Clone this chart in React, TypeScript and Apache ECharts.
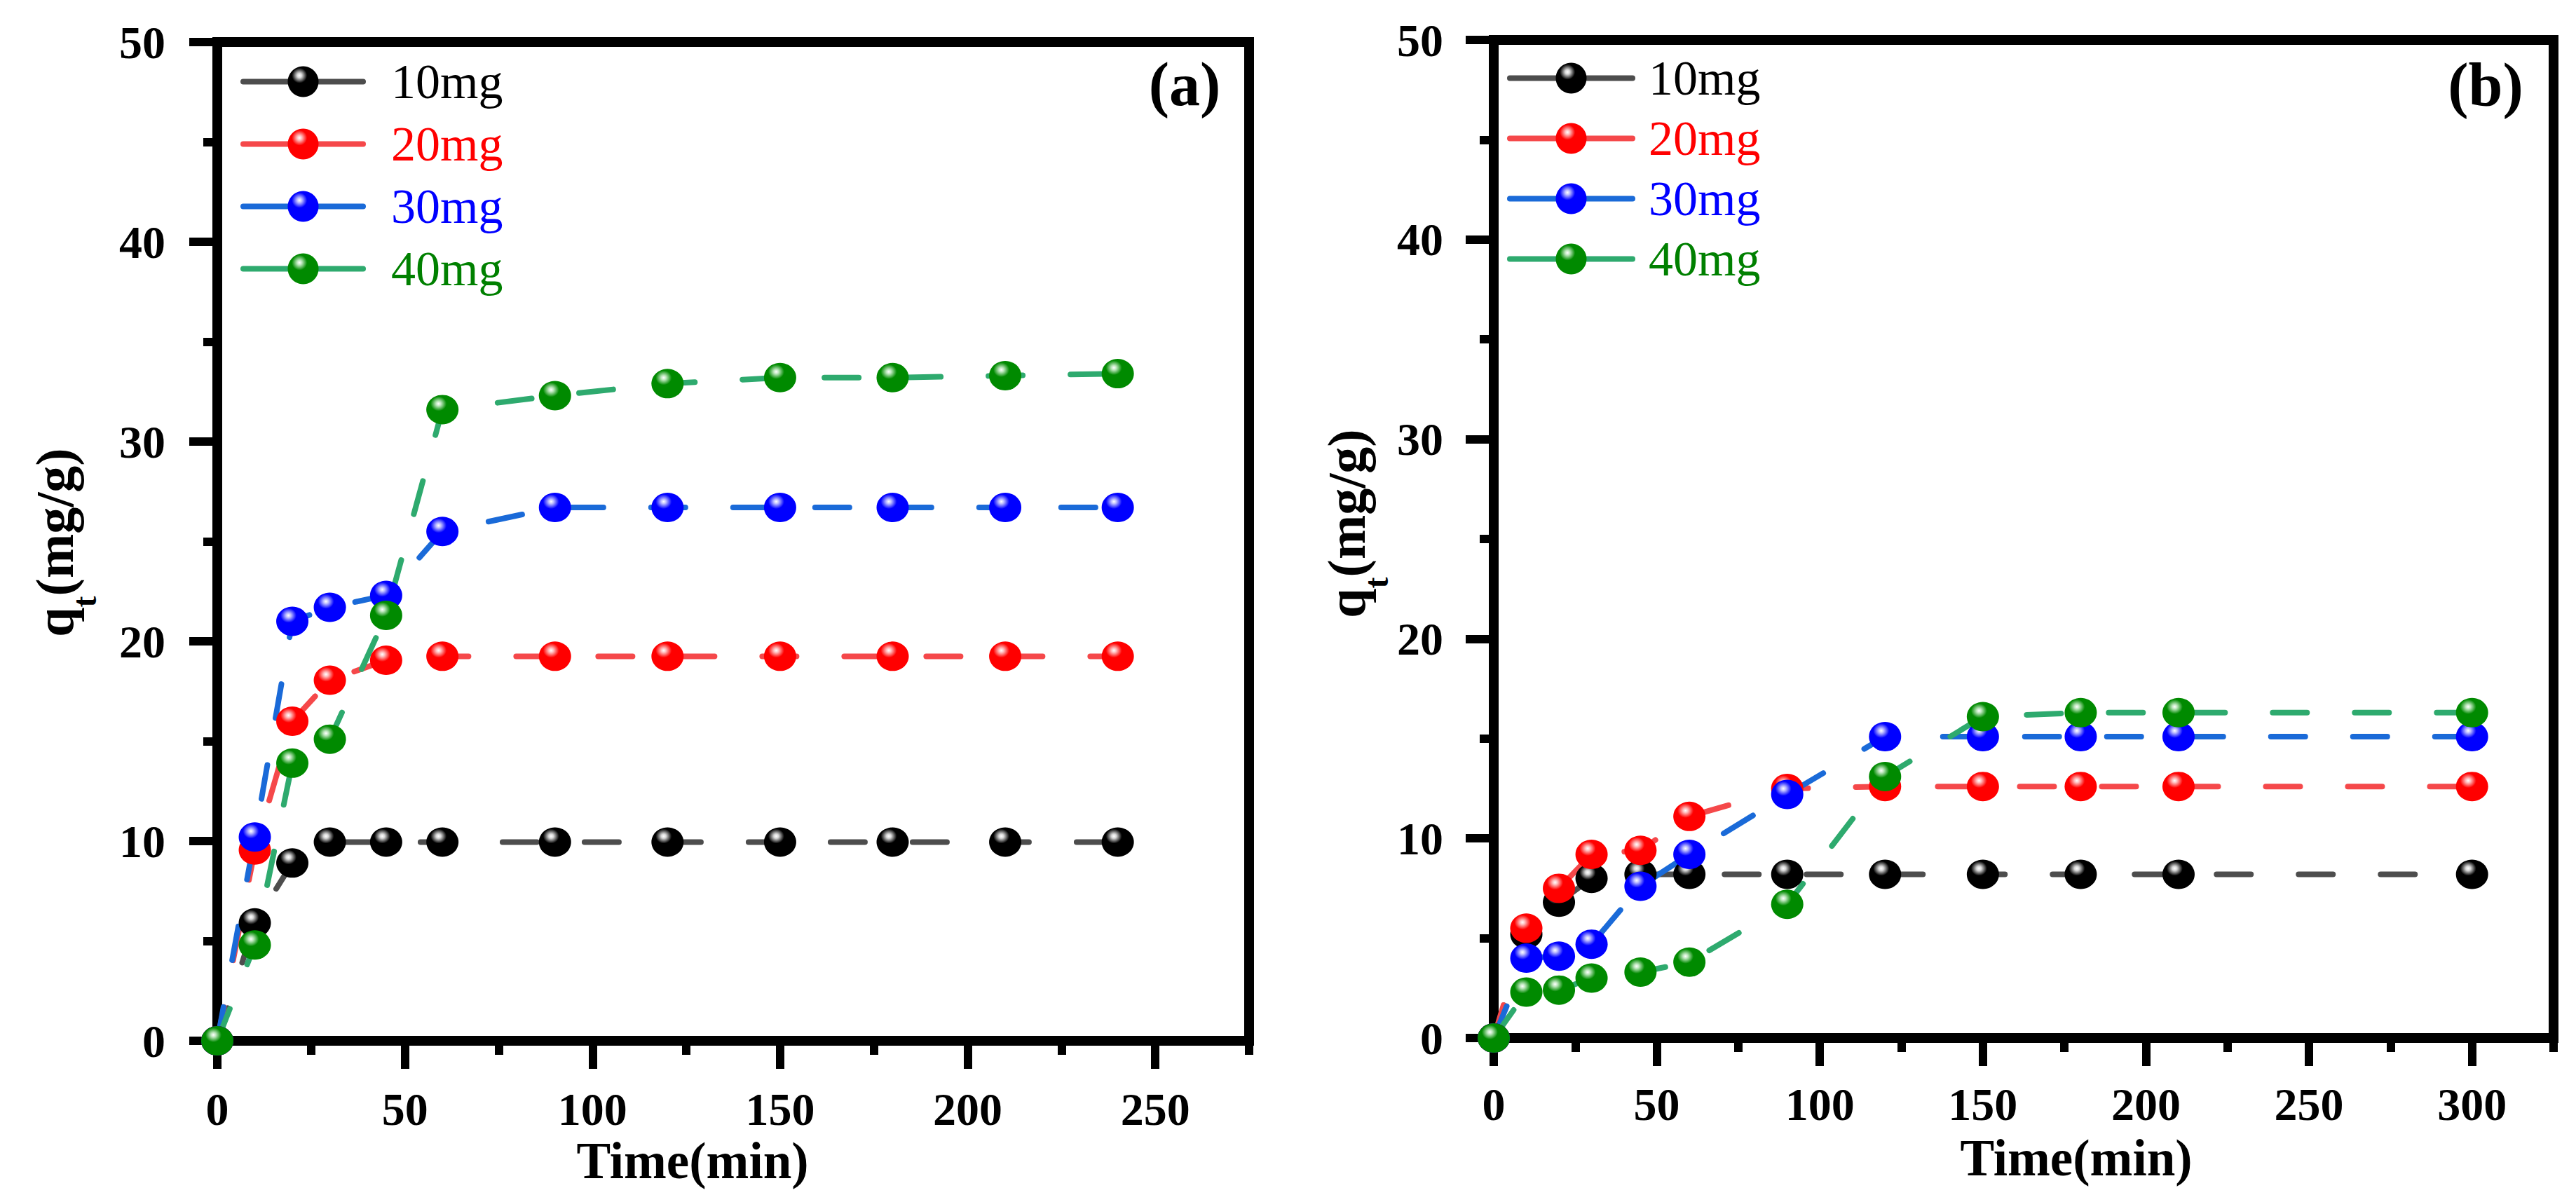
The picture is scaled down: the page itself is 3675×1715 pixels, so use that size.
import React, { useEffect, useRef } from "react";
import * as echarts from "echarts";

// ---------- data ----------
const seriesNames = ["10mg", "20mg", "30mg", "40mg"];

const timesA = [0, 10, 20, 30, 45, 60, 90, 120, 150, 180, 210, 240];
const a10 = [0, 5.9, 8.9, 9.95, 9.95, 9.95, 9.95, 9.95, 9.95, 9.95, 9.95, 9.95];
const a20 = [0, 9.55, 16.0, 18.05, 19.05, 19.25, 19.25, 19.25, 19.25, 19.25, 19.25, 19.25];
const a30 = [0, 10.2, 21.0, 21.7, 22.3, 25.5, 26.7, 26.7, 26.7, 26.7, 26.7, 26.7];
const a40 = [0, 4.8, 13.9, 15.1, 21.3, 31.6, 32.3, 32.9, 33.2, 33.2, 33.3, 33.4];

const timesB = [0, 10, 20, 30, 45, 60, 90, 120, 150, 180, 210, 300];
const b10 = [0, 5.2, 6.8, 8.0, 8.2, 8.2, 8.2, 8.2, 8.2, 8.2, 8.2, 8.2];
const b20 = [0, 5.5, 7.5, 9.2, 9.4, 11.1, 12.5, 12.6, 12.6, 12.6, 12.6, 12.6];
const b30 = [0, 4.0, 4.1, 4.7, 7.6, 9.2, 12.2, 15.1, 15.1, 15.1, 15.1, 15.1];
const b40 = [0, 2.3, 2.4, 3.0, 3.3, 3.8, 6.7, 13.1, 16.1, 16.3, 16.3, 16.3];

const xTicksA = [0, 50, 100, 150, 200, 250];
const xTicksB = [0, 50, 100, 150, 200, 250, 300];

const lineColors = ["#4d4d4d", "#f5484a", "#1a6ad8", "#2eaa6e"];
const markerColors = ["#000000", "#ff0000", "#0000ff", "#008a00"];
const highlightColors = ["#d8d8d8", "#ffc0c0", "#c0c0ff", "#c0e8c0"];
const legendTextColors = ["#000000", "#ff0000", "#0000ff", "#008000"];

const FONT = "'Liberation Serif', 'Times New Roman', serif";

function ball(i: number) {
  return new echarts.graphic.RadialGradient(0.38, 0.3, 0.62, [
    { offset: 0, color: "#ffffff" },
    { offset: 0.12, color: highlightColors[i] },
    { offset: 0.4, color: markerColors[i] },
    { offset: 1, color: markerColors[i] },
  ]);
}

function makeSeries(times: number[], vals: number[], i: number, xAxisIndex: number, yAxisIndex: number) {
  return {
    type: "line",
    name: seriesNames[i],
    xAxisIndex,
    yAxisIndex,
    data: times.map((t, k) => [t, vals[k]]),
    symbol: "circle",
    symbolSize: [46, 42],
    itemStyle: { color: ball(i), borderWidth: 0 },
    lineStyle: { color: lineColors[i], width: 8, type: [49, 68], cap: "round" },
    emphasis: { disabled: true },
  };
}

function yAxisDef(gridIndex: number, margin: number) {
  return {
    type: "value",
    gridIndex,
    min: 0,
    max: 50,
    interval: 10,
    axisLine: { show: true, lineStyle: { color: "#000", width: 14 } },
    axisTick: { show: true, length: 40, lineStyle: { color: "#000", width: 12 } },
    minorTick: { show: true, splitNumber: 2, length: 20, lineStyle: { color: "#000", width: 12 } },
    splitLine: { show: false },
    minorSplitLine: { show: false },
    axisLabel: {
      fontFamily: FONT,
      fontWeight: "bold",
      fontSize: 66,
      lineHeight: 66,
      color: "#000",
      margin,
    },
  };
}

function xMajorDef(gridIndex: number, max: number, ticks: number[], margin: number, nameGap: number, namePadding: number[]) {
  return {
    type: "value",
    gridIndex,
    position: "bottom",
    min: 0,
    max,
    interval: 50,
    axisLine: { show: true, lineStyle: { color: "#000", width: 14 } },
    axisTick: { show: true, customValues: ticks, length: 40, lineStyle: { color: "#000", width: 12 } },
    splitLine: { show: false },
    axisLabel: {
      customValues: ticks,
      fontFamily: FONT,
      fontWeight: "bold",
      fontSize: 66,
      lineHeight: 66,
      color: "#000",
      margin,
    },
    name: "Time(min)",
    nameLocation: "middle",
    nameGap,
    nameTextStyle: {
      fontFamily: FONT,
      fontWeight: "bold",
      fontSize: 73,
      lineHeight: 73,
      color: "#000",
      padding: namePadding,
    },
  };
}

function xMinorDef(gridIndex: number, max: number) {
  return {
    type: "value",
    gridIndex,
    position: "bottom",
    offset: 0,
    min: 0,
    max,
    interval: 25,
    axisLine: { show: false },
    axisTick: { show: true, length: 20, lineStyle: { color: "#000", width: 12 } },
    axisLabel: { show: false },
    splitLine: { show: false },
  };
}

function legendDef(left: number, top: number, itemWidth: number, itemGap: number, textPad: number) {
  return {
    orient: "vertical",
    left,
    top,
    itemWidth,
    itemHeight: 55,
    itemGap,
    padding: 0,
    selectedMode: false,
    data: seriesNames.map((n, i) => ({ name: n, textStyle: { color: legendTextColors[i] } })),
    textStyle: { fontFamily: FONT, fontSize: 70, lineHeight: 55, padding: [0, 0, 0, textPad] },
    lineStyle: { type: "solid", width: 8 },
  };
}

function yTitle(x: number, y: number) {
  const base = { fontFamily: FONT, fontWeight: "bold", fill: "#000", color: "#000", verticalAlign: "top" };
  return {
    type: "text",
    x,
    y,
    rotation: Math.PI / 2,
    silent: true,
    style: {
      text: "{q|q}{t|t}{p|(mg/g)}",
      textAlign: "center",
      textVerticalAlign: "middle",
      align: "center",
      verticalAlign: "middle",
      rich: {
        q: { ...base, fontSize: 76, lineHeight: 76 },
        t: { ...base, fontSize: 48, lineHeight: 48, padding: [57, 0, 0, 0] },
        p: { ...base, fontSize: 76, lineHeight: 76 },
      },
    },
  };
}

function panelLabel(text: string, x: number, y: number) {
  return {
    type: "text",
    x,
    y,
    silent: true,
    style: {
      text,
      font: "bold 88px 'Liberation Serif', serif",
      fill: "#000",
      textAlign: "center",
      textVerticalAlign: "middle",
      align: "center",
      verticalAlign: "middle",
    },
  };
}

function buildOption() {
  return {
    animation: false,
    backgroundColor: "#ffffff",
    grid: [
      { left: 310, top: 60, width: 1472, height: 1425, show: true, borderColor: "#000", borderWidth: 14, backgroundColor: "transparent" },
      { left: 2131, top: 57, width: 1512, height: 1424, show: true, borderColor: "#000", borderWidth: 14, backgroundColor: "transparent" },
    ],
    xAxis: [
      xMajorDef(0, 275, xTicksA, 64, 130, [0, 116, 0, 0]),
      xMinorDef(0, 275),
      xMajorDef(1, 325, xTicksB, 61, 135, [0, 0, 0, 150]),
      xMinorDef(1, 325),
    ],
    yAxis: [yAxisDef(0, 74), yAxisDef(1, 72)],
    legend: [legendDef(343, 81.5, 171, 19, 35), legendDef(2150, 76.5, 175, 16, 18)],
    graphic: [
      yTitle(77.5, 774),
      yTitle(1920.5, 747),
      panelLabel("(a)", 1690, 120),
      panelLabel("(b)", 3546, 121),
    ],
    series: [
      makeSeries(timesA, a10, 0, 0, 0),
      makeSeries(timesA, a20, 1, 0, 0),
      makeSeries(timesA, a30, 2, 0, 0),
      makeSeries(timesA, a40, 3, 0, 0),
      makeSeries(timesB, b10, 0, 2, 1),
      makeSeries(timesB, b20, 1, 2, 1),
      makeSeries(timesB, b30, 2, 2, 1),
      makeSeries(timesB, b40, 3, 2, 1),
    ],
  };
}

export default function App() {
  const ref = useRef<HTMLDivElement>(null);
  useEffect(() => {
    document.body.style.margin = "0";
    if (!ref.current) return;
    const chart = echarts.init(ref.current, null, { renderer: "svg" });
    chart.setOption(buildOption() as any);
    return () => chart.dispose();
  }, []);
  return <div ref={ref} style={{ width: 3675, height: 1715, background: "#fff" }} />;
}
